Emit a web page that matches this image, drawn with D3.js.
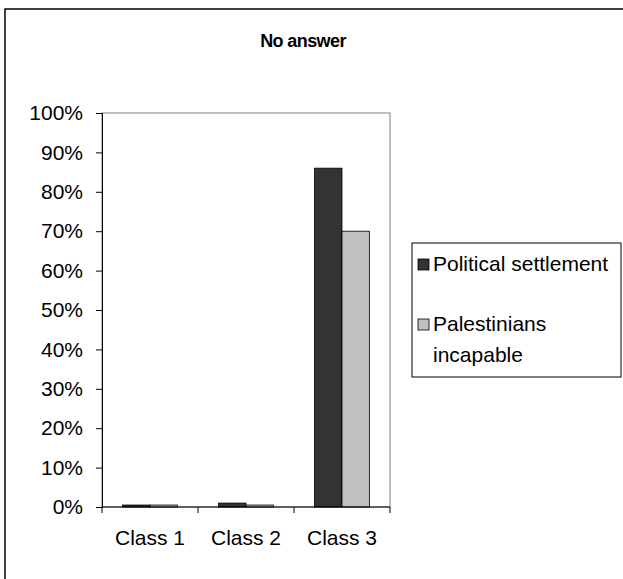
<!DOCTYPE html>
<html>
<head>
<meta charset="utf-8">
<script src="https://cdn.jsdelivr.net/npm/d3@7"></script>
<style>
  html, body { margin: 0; padding: 0; background: #fff; }
  svg { display: block; font-family: "Liberation Sans", Arial, sans-serif; }
</style>
</head>
<body>
<svg id="chart" width="623" height="579"></svg>
<script>
// Chart data
const title = "No answer";
const categories = ["Class 1", "Class 2", "Class 3"];
const seriesNames = ["Political settlement", "Palestinians incapable"];
const politicalSettlement = [0.5, 1, 86];
const palestiniansIncapable = [0.5, 0.5, 70];
const yTicks = [0, 10, 20, 30, 40, 50, 60, 70, 80, 90, 100];
const seriesColors = ["#333333", "#c0c0c0"];

const seriesValues = [politicalSettlement, palestiniansIncapable];
const labelSize = 21;

const svg = d3.select("#chart");

// Outer chart frame
svg.append("rect")
  .attr("x", 5).attr("y", 9)
  .attr("width", 700).attr("height", 700)
  .attr("fill", "#fff")
  .attr("stroke", "#000")
  .attr("stroke-width", 1.5);

// Plot area
const plot = { left: 102, right: 390, top: 113, bottom: 507 };

const x0 = d3.scaleBand()
  .domain(categories)
  .range([plot.left, plot.right])
  .paddingInner(0).paddingOuter(0);

const x1 = d3.scaleBand()
  .domain(seriesNames)
  .range([0, x0.bandwidth()])
  .paddingInner(0).paddingOuter(0.75);

const y = d3.scaleLinear()
  .domain([0, 100])
  .range([plot.bottom, plot.top]);

// Plot area border (grey)
svg.append("rect")
  .attr("x", plot.left).attr("y", plot.top)
  .attr("width", plot.right - plot.left)
  .attr("height", plot.bottom - plot.top)
  .attr("fill", "#fff")
  .attr("stroke", "#808080")
  .attr("stroke-width", 1);

// Bars
const rows = categories.map((c, i) => ({
  category: c,
  values: seriesNames.map((s, j) => ({ series: s, value: seriesValues[j][i], color: seriesColors[j] }))
}));

const groups = svg.append("g").selectAll("g")
  .data(rows).join("g")
  .attr("transform", d => `translate(${x0(d.category)},0)`);

groups.selectAll("rect")
  .data(d => d.values).join("rect")
  .attr("x", d => x1(d.series))
  .attr("y", d => y(d.value))
  .attr("width", x1.bandwidth())
  .attr("height", d => y(0) - y(d.value))
  .attr("fill", d => d.color)
  .attr("stroke", "#000")
  .attr("stroke-width", 0.8);

// Y axis
const yAxis = svg.append("g")
  .attr("transform", `translate(${plot.left},0)`)
  .call(d3.axisLeft(y).tickValues(yTicks).tickFormat(d => d + "%").tickSize(6).tickPadding(13));
yAxis.select(".domain").attr("stroke", "#000");
yAxis.selectAll(".tick line").attr("stroke", "#000");
yAxis.selectAll("text")
  .attr("font-size", labelSize)
  .attr("fill", "#000")
  .attr("font-family", "Liberation Sans, Arial, sans-serif");

// X axis: ticks at category boundaries
const xAxis = svg.append("g")
  .attr("transform", `translate(0,${plot.bottom})`);
xAxis.append("line")
  .attr("x1", plot.left).attr("x2", plot.right)
  .attr("y1", 0).attr("y2", 0)
  .attr("stroke", "#000");
const boundaries = categories.map(c => x0(c)).concat([x0(categories[categories.length - 1]) + x0.bandwidth()]);
xAxis.selectAll("line.tick")
  .data(boundaries).join("line")
  .attr("class", "tick")
  .attr("x1", d => d).attr("x2", d => d)
  .attr("y1", 0).attr("y2", 6)
  .attr("stroke", "#000");
xAxis.selectAll("text")
  .data(categories).join("text")
  .attr("x", d => x0(d) + x0.bandwidth() / 2)
  .attr("y", 38)
  .attr("text-anchor", "middle")
  .attr("font-size", labelSize)
  .attr("fill", "#000")
  .text(d => d);

// Title
svg.append("text")
  .attr("x", 303).attr("y", 47)
  .attr("text-anchor", "middle")
  .attr("font-size", 18)
  .attr("letter-spacing", -0.6)
  .attr("font-weight", "bold")
  .attr("fill", "#000")
  .text(title);

// Legend
const legend = svg.append("g");
legend.append("rect")
  .attr("x", 412).attr("y", 243)
  .attr("width", 209).attr("height", 134)
  .attr("fill", "#fff")
  .attr("stroke", "#000")
  .attr("stroke-width", 1);

const legendItems = [
  { lines: ["Political settlement"], color: seriesColors[0], y: 271 },
  { lines: ["Palestinians", "incapable"], color: seriesColors[1], y: 331 }
];
legendItems.forEach(item => {
  legend.append("rect")
    .attr("x", 418).attr("y", item.y - 12)
    .attr("width", 11).attr("height", 11)
    .attr("fill", item.color)
    .attr("stroke", "#000")
    .attr("stroke-width", 0.8);
  const t = legend.append("text")
    .attr("x", 433).attr("y", item.y)
    .attr("font-size", labelSize)
    .attr("fill", "#000");
  item.lines.forEach((ln, i) => {
    t.append("tspan").attr("x", 433).attr("dy", i === 0 ? 0 : 31).text(ln);
  });
});
</script>
</body>
</html>
